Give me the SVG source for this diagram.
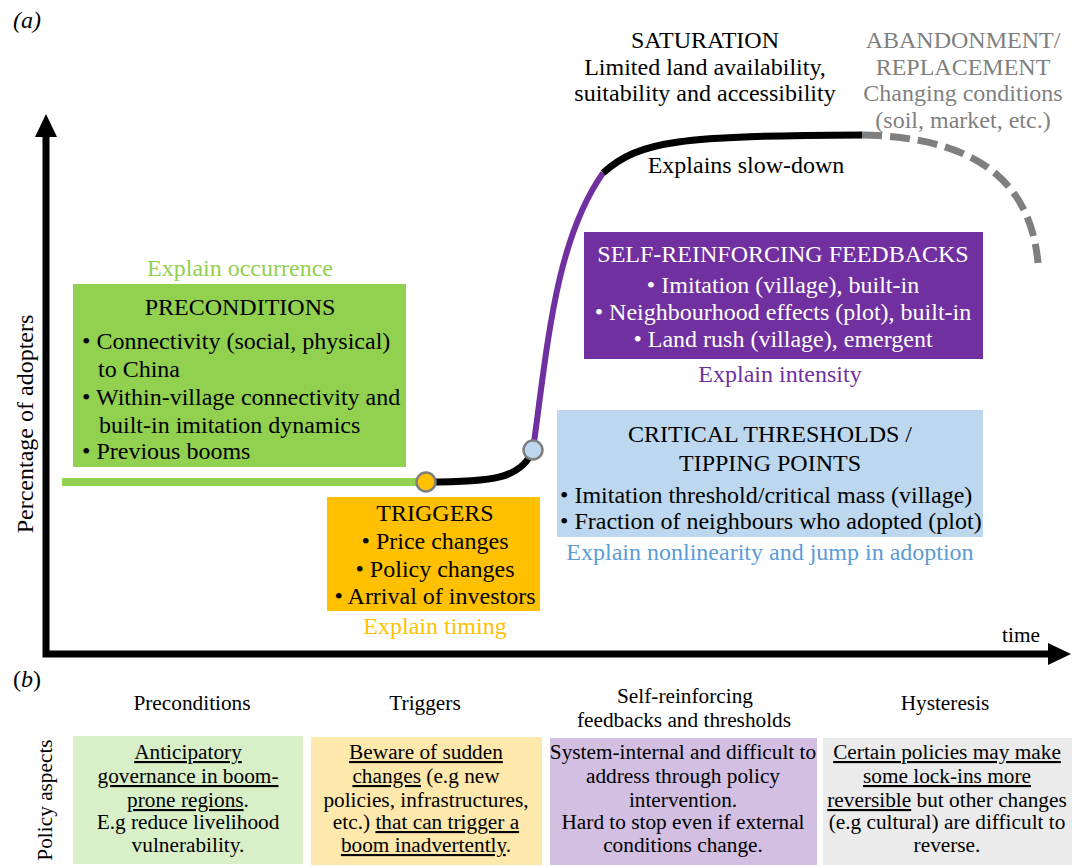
<svg xmlns="http://www.w3.org/2000/svg" width="1072" height="867" viewBox="0 0 1072 867">
<style>
text{font-family:'Liberation Serif','DejaVu Serif',serif;fill:#000}
.t{font-size:24px}
.b{font-size:21.3px}
.mid{text-anchor:middle}
.gray{fill:#7f7f7f}
.white{fill:#fff}
.u{text-decoration:underline}
</style>
<defs>
<marker id="ah" markerUnits="userSpaceOnUse" markerWidth="24" markerHeight="24" viewBox="0 0 24 24" refX="0" refY="12" orient="auto-start-reverse">
<path d="M0,1 L23,12 L0,23 z" fill="#000"/>
</marker>
</defs>
<rect width="1072" height="867" fill="#fff"/>

<text x="13" y="28" class="t" font-style="italic">(<tspan>a</tspan>)</text>
<text x="13" y="687" class="t">(<tspan font-style="italic">b</tspan>)</text>

<g id="axes">
<path d="M46,137 V654 H1048" fill="none" stroke="#000" stroke-width="7" stroke-linejoin="miter" marker-start="url(#ah)" marker-end="url(#ah)"/>
<text transform="translate(33,424) rotate(-90)" class="t mid">Percentage of adopters</text>
<text x="1021" y="642" class="b mid">time</text>
</g>

<g id="connectors" fill="none">
<line x1="62" y1="482" x2="426" y2="482" stroke="#92d050" stroke-width="8"/>
<path d="M426,482 C492,482 521,479 533,450" stroke="#000" stroke-width="7"/>
<path d="M533,450 C548,340 556,240 603,173" stroke="#7030a0" stroke-width="6"/>
<path d="M603,173 C640,140 680,136 862,135" stroke="#000" stroke-width="7"/>
<path d="M862,135 C968,137 1030,175 1038,263" stroke="#7f7f7f" stroke-width="7" stroke-dasharray="20 8"/>
</g>

<g id="point-trigger"><circle cx="426" cy="482" r="9.5" fill="#ffc000" stroke="#7f7f7f" stroke-width="2.5"/></g>
<g id="point-threshold"><circle cx="533" cy="450" r="9.5" fill="#bdd7ee" stroke="#7f7f7f" stroke-width="2.5"/></g>

<g id="saturation">
<text x="705" y="48" class="t mid">SATURATION</text>
<text x="705" y="74.5" class="t mid">Limited land availability,</text>
<text x="705" y="101" class="t mid">suitability and accessibility</text>
<text x="746" y="173" class="t mid">Explains slow-down</text>
</g>

<g id="abandonment">
<text x="963" y="48" class="t mid gray">ABANDONMENT/</text>
<text x="963" y="74.5" class="t mid gray">REPLACEMENT</text>
<text x="963" y="101" class="t mid gray">Changing conditions</text>
<text x="963" y="127.5" class="t mid gray">(soil, market, etc.)</text>
</g>

<g id="preconditions">
<text x="240" y="276" class="t mid" style="fill:#92d050">Explain occurrence</text>
<rect x="73" y="284" width="333" height="183" fill="#92d050"/>
<text x="240" y="315" class="t mid">PRECONDITIONS</text>
<text x="82" y="349" class="t">• Connectivity (social, physical)</text>
<text x="98" y="377" class="t">to China</text>
<text x="82" y="405" class="t">• Within-village connectivity and</text>
<text x="99" y="433" class="t">built-in imitation dynamics</text>
<text x="82" y="459" class="t">• Previous booms</text>
</g>

<g id="triggers">
<rect x="327" y="497" width="213" height="114" fill="#ffc000"/>
<text x="435" y="521" class="t mid">TRIGGERS</text>
<text x="435" y="549" class="t mid">• Price changes</text>
<text x="435" y="577" class="t mid">• Policy changes</text>
<text x="435" y="604" class="t mid">• Arrival of investors</text>
<text x="435" y="634" class="t mid" style="fill:#ffc000">Explain timing</text>
</g>

<g id="feedbacks">
<rect x="584" y="232" width="399" height="127" fill="#7030a0"/>
<text x="783" y="262" class="t mid white">SELF-REINFORCING FEEDBACKS</text>
<text x="783" y="293" class="t mid white">• Imitation (village), built-in</text>
<text x="783" y="320" class="t mid white">• Neighbourhood effects (plot), built-in</text>
<text x="783" y="347" class="t mid white">• Land rush (village), emergent</text>
<text x="780" y="382" class="t mid" style="fill:#7030a0">Explain intensity</text>
</g>

<g id="thresholds">
<rect x="557" y="410" width="426" height="127" fill="#bdd7ee"/>
<text x="770" y="442" class="t mid">CRITICAL THRESHOLDS /</text>
<text x="770" y="471" class="t mid">TIPPING POINTS</text>
<text x="560" y="503" class="t">• Imitation threshold/critical mass (village)</text>
<text x="560" y="529" class="t">• Fraction of neighbours who adopted (plot)</text>
<text x="770" y="560" class="t mid" style="fill:#5b9bd5">Explain nonlinearity and jump in adoption</text>
</g>

<g id="policy-label">
<text transform="translate(52,800) rotate(-90)" class="b mid">Policy aspects</text>
</g>

<g id="policy-preconditions">
<text x="192" y="710" class="b mid">Preconditions</text>
<rect x="73" y="736" width="230" height="128" fill="#d9efc7"/>
<text x="188" y="759" class="b mid"><tspan class="u">Anticipatory</tspan></text>
<text x="188" y="783" class="b mid"><tspan class="u">governance in boom-</tspan></text>
<text x="188" y="807" class="b mid"><tspan class="u">prone regions</tspan>.</text>
<text x="188" y="829" class="b mid">E.g reduce livelihood</text>
<text x="188" y="852" class="b mid">vulnerability.</text>
</g>

<g id="policy-triggers">
<text x="425" y="710" class="b mid">Triggers</text>
<rect x="311" y="737" width="231" height="128" fill="#fee8ab"/>
<text x="426" y="759" class="b mid"><tspan class="u">Beware of sudden</tspan></text>
<text x="426" y="783" class="b mid"><tspan class="u">changes</tspan> (e.g new</text>
<text x="426" y="807" class="b mid">policies, infrastructures,</text>
<text x="426" y="829" class="b mid">etc.) <tspan class="u">that can trigger a</tspan></text>
<text x="426" y="852" class="b mid"><tspan class="u">boom inadvertently</tspan>.</text>
</g>

<g id="policy-feedbacks">
<text x="685" y="703" class="b mid">Self-reinforcing</text>
<text x="684" y="727" class="b mid">feedbacks and thresholds</text>
<rect x="550" y="738" width="267" height="127" fill="#d2bfe2"/>
<text x="683" y="759" class="b mid">System-internal and difficult to</text>
<text x="683" y="783" class="b mid">address through policy</text>
<text x="683" y="807" class="b mid">intervention.</text>
<text x="683" y="829" class="b mid">Hard to stop even if external</text>
<text x="683" y="852" class="b mid">conditions change.</text>
</g>

<g id="policy-hysteresis">
<text x="945" y="710" class="b mid">Hysteresis</text>
<rect x="823" y="738" width="249" height="127" fill="#ebebeb"/>
<text x="947" y="759" class="b mid"><tspan class="u">Certain policies may make </tspan></text>
<text x="947" y="783" class="b mid"><tspan class="u">some lock-ins more</tspan></text>
<text x="947" y="807" class="b mid"><tspan class="u"> reversible</tspan> but other changes</text>
<text x="947" y="829" class="b mid">(e.g cultural) are difficult to</text>
<text x="947" y="852" class="b mid">reverse.</text>
</g>
</svg>
